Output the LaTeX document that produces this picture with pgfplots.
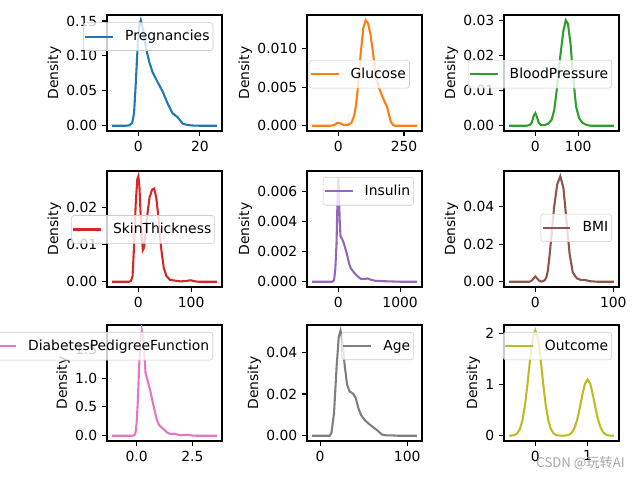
\documentclass[border=0pt]{standalone}
\usepackage{pgfplots}
\pgfplotsset{compat=1.18}
\usepackage{fontspec}
\setmainfont{DejaVu Sans}
\newfontfamily\cjk{Noto Sans CJK SC}
\definecolor{c1}{HTML}{1F77B4}
\definecolor{c2}{HTML}{FF7F0E}
\definecolor{c3}{HTML}{2CA02C}
\definecolor{c4}{HTML}{D62728}
\definecolor{c5}{HTML}{9467BD}
\definecolor{c6}{HTML}{8C564B}
\definecolor{c7}{HTML}{E377C2}
\definecolor{c8}{HTML}{7F7F7F}
\definecolor{c9}{HTML}{BCBD22}
\pgfplotsset{
  kde/.style={
    scale only axis, width=82.8pt, height=83.52pt, anchor=north west,
    axis line style={line width=0.8pt},
    tick align=outside, major tick length=3.5pt,
    tick style={line width=0.8pt, color=black},
    xtick pos=left, ytick pos=left,
    scaled x ticks=false, scaled y ticks=false,
    /pgf/number format/assume math mode=true,
    ticklabel style={font=\fontsize{10}{12}\selectfont},
    label style={font=\fontsize{10}{12}\selectfont},
    ylabel=Density,
    ylabel style={yshift=-3pt},
    every axis plot/.append style={line width=1.5pt, mark=none},
    legend cell align=left,
    legend image code/.code={\draw[##1, line width=1.5pt] (0pt,0pt) -- (20pt,0pt);},
    legend style={draw=black!20, rounded corners=2pt, fill=white, fill opacity=0.8,
      text opacity=1, font=\fontsize{10}{12}\selectfont,
      inner xsep=0.5pt, inner ysep=3.5pt, nodes={inner sep=2pt},
      /tikz/every odd column/.append style={column sep=6pt}},
  }
}
\begin{document}
\begin{tikzpicture}
\path[use as bounding box] (0,0) rectangle (460.8pt,-345.6pt);
% Row 1
\begin{axis}[kde, at={(77.04pt,-10.8pt)},
  xmin=-10.2, xmax=27.2, ymin=-0.00755, ymax=0.1586,
  xtick={0,20}, xticklabels={0,20},
  ytick={0,0.05,0.1,0.15}, yticklabels={0.00,0.05,0.10,0.15},
  legend style={at={(0.924,0.937)}, anchor=north east}]
\addplot[c1] coordinates {(-8.5,0) (-4,0) (-3,0.0005) (-2,0.004) (-1.4,0.018) (-0.9,0.056) (-0.3,0.108) (0.2,0.141) (0.8,0.151) (1.5,0.139) (2.4,0.113) (3.5,0.092) (4.6,0.077) (6.2,0.063) (7.9,0.049) (9.5,0.032) (11.1,0.018) (12.8,0.012) (14.4,0.003) (16,0.001) (18,0.0002) (20,0) (25.5,0)};
\addlegendentry{Pregnancies}
\end{axis}
\begin{axis}[kde, at={(221.04pt,-10.8pt)},
  xmin=-119.4, xmax=318.4, ymin=-0.000685, ymax=0.01439,
  xtick={0,250}, xticklabels={0,250},
  ytick={0,0.005,0.01}, yticklabels={0.000,0.005,0.010},
  legend style={at={(0.015,0.49)}, anchor=west}]
\addplot[c2] coordinates {(-99.5,0) (-30,0) (-15,0.0001) (-7,0.0003) (0,0.0004) (8,0.0003) (20,0.0001) (35,0.0001) (50,0.0004) (60,0.0013) (67,0.0026) (75,0.0052) (85,0.0094) (95,0.0127) (104,0.0137) (113,0.0133) (122,0.0119) (130,0.0100) (137,0.0080) (145,0.0061) (155,0.0049) (165,0.0040) (175,0.0032) (185,0.0025) (192,0.0015) (200,0.0005) (208,0.0001) (215,0) (298.5,0)};
\addlegendentry{Glucose}
\end{axis}
\begin{axis}[kde, at={(362.88pt,-10.8pt)},
  xmin=-73.2, xmax=195.2, ymin=-0.0015, ymax=0.0316,
  xtick={0,100}, xticklabels={0,100},
  ytick={0,0.01,0.02,0.03}, yticklabels={0.00,0.01,0.02,0.03},
  legend style={at={(0.939,0.49)}, anchor=east}]
\addplot[c3] coordinates {(-61,0) (-20,0) (-12,0.0003) (-8,0.0010) (-4,0.0028) (0,0.0036) (4,0.0024) (8,0.0008) (13,0.0002) (22,0.0002) (30,0.0006) (38,0.0017) (44,0.0045) (50,0.0102) (58,0.0197) (65,0.0268) (71,0.0301) (76,0.0291) (82,0.0235) (88,0.0140) (95,0.0055) (102,0.0022) (110,0.0008) (120,0.0002) (130,0) (183,0)};
\addlegendentry{BloodPressure}
\end{axis}
% Row 2
\begin{axis}[kde, at={(77.04pt,-123.12pt)},
  xmin=-59.4, xmax=158.4, ymin=-0.0014, ymax=0.0297,
  xtick={0,100}, xticklabels={0,100},
  ytick={0,0.01,0.02}, yticklabels={0.00,0.01,0.02},
  legend style={at={(0.939,0.496)}, anchor=east}]
\addplot[c4] coordinates {(-49.5,0) (-18,0) (-14,0.0002) (-11,0.0015) (-8,0.0100) (-5,0.0210) (-2,0.0275) (0,0.0283) (2,0.0255) (4,0.0190) (6,0.0127) (8.5,0.0085) (11,0.0092) (14,0.0135) (17,0.0180) (21,0.0225) (26,0.0247) (30,0.0250) (34,0.0225) (38,0.0172) (43,0.0092) (48,0.0038) (53,0.0016) (60,0.0005) (70,0.0003) (80,0.0001) (90,0.0002) (99,0.0004) (108,0.0001) (115,0) (148.5,0)};
\addlegendentry{SkinThickness}
\end{axis}
\begin{axis}[kde, at={(221.04pt,-123.12pt)},
  xmin=-507.6, xmax=1353.6, ymin=-0.00035, ymax=0.00734,
  xtick={0,1000}, xticklabels={0,1000},
  ytick={0,0.002,0.004,0.006}, yticklabels={0.000,0.002,0.004,0.006},
  legend style={at={(0.930,0.948)}, anchor=north east}]
\addplot[c5] coordinates {(-423,0) (-100,0) (-70,0.0001) (-50,0.0008) (-30,0.0025) (-15,0.0052) (-5,0.0067) (0,0.0069) (10,0.0060) (20,0.0042) (35,0.0030) (65,0.0028) (92,0.0025) (120,0.0021) (146,0.0017) (175,0.0012) (200,0.0009) (254,0.0006) (300,0.0004) (360,0.0002) (420,0.00017) (470,0.00022) (520,0.00014) (600,0.00006) (700,0.00004) (850,0.00002) (1000,0) (1269,0)};
\addlegendentry{Insulin}
\end{axis}
\begin{axis}[kde, at={(362.88pt,-123.12pt)},
  xmin=-40.26, xmax=107.36, ymin=-0.0028, ymax=0.0591,
  xtick={0,100}, xticklabels={0,100},
  ytick={0,0.02,0.04}, yticklabels={0.00,0.02,0.04},
  legend style={at={(0.939,0.509)}, anchor=east}]
\addplot[c6] coordinates {(-33.55,0) (-8,0) (-5,0.0004) (-2.5,0.0017) (0,0.0028) (2.5,0.0017) (5,0.0005) (8,0.0001) (12,0.0008) (14,0.0022) (16,0.0058) (18,0.0130) (20,0.0218) (24,0.0395) (28,0.0519) (32,0.0563) (36,0.0501) (40,0.0324) (44,0.0147) (48,0.0050) (53,0.0019) (58,0.0010) (65,0.0008) (70,0.0003) (80,0) (100.65,0)};
\addlegendentry{BMI}
\end{axis}
% Row 3
\begin{axis}[kde, at={(77.04pt,-234pt)},
  xmin=-1.327, xmax=3.825, ymin=-0.0915, ymax=1.92,
  xtick={0,2.5}, xticklabels={0.0,2.5},
  ytick={0,0.5,1,1.5}, yticklabels={0.0,0.5,1.0,1.5},
  legend style={at={(0.922,0.940)}, anchor=north east}]
\addplot[c7] coordinates {(-1.093,0) (-0.2,0) (-0.1,0.01) (-0.05,0.05) (0,0.22) (0.05,0.57) (0.12,1.26) (0.18,1.66) (0.23,1.83) (0.28,1.74) (0.33,1.49) (0.4,1.09) (0.5,0.94) (0.6,0.80) (0.7,0.62) (0.8,0.45) (0.9,0.28) (1.0,0.19) (1.1,0.15) (1.25,0.10) (1.4,0.046) (1.55,0.03) (1.7,0.035) (1.85,0.017) (2.0,0.008) (2.2,0.017) (2.35,0.012) (2.5,0.003) (2.7,0) (3.591,0)};
\addlegendentry{DiabetesPedigreeFunction}
\end{axis}
\begin{axis}[kde, at={(221.04pt,-234pt)},
  xmin=-15, xmax=117, ymin=-0.0025, ymax=0.053,
  xtick={0,100}, xticklabels={0,100},
  ytick={0,0.02,0.04}, yticklabels={0.00,0.02,0.04},
  legend style={at={(0.930,0.940)}, anchor=north east}]
\addplot[c8] coordinates {(-9,0) (11,0) (13,0.0013) (16,0.0108) (19,0.0331) (21.5,0.0475) (23.5,0.0504) (25.5,0.0459) (28,0.0347) (31,0.0244) (34,0.0212) (38,0.0201) (41,0.0180) (44,0.0132) (47,0.0100) (51,0.0076) (56,0.0057) (61,0.0041) (66,0.0025) (71,0.0006) (76,0.0002) (82,0.0002) (90,0) (111,0)};
\addlegendentry{Age}
\end{axis}
\begin{axis}[kde, at={(362.88pt,-234pt)},
  xmin=-0.6, xmax=1.6, ymin=-0.103, ymax=2.163,
  xtick={0,1}, xticklabels={0,1},
  ytick={0,1,2}, yticklabels={0,1,2},
  legend style={at={(0.939,0.940)}, anchor=north east}]
\addplot[c9] coordinates {(-0.5,0.0008) (-0.45,0.0035) (-0.4,0.0133) (-0.35,0.0435) (-0.3,0.121) (-0.25,0.288) (-0.2,0.585) (-0.15,1.013) (-0.1,1.504) (-0.05,1.903) (0,2.06) (0.05,1.903) (0.1,1.504) (0.15,1.013) (0.2,0.585) (0.25,0.288) (0.3,0.121) (0.35,0.044) (0.4,0.014) (0.45,0.005) (0.5,0.0016) (0.55,0.0019) (0.6,0.0071) (0.65,0.0232) (0.7,0.0646) (0.75,0.154) (0.8,0.312) (0.85,0.541) (0.9,0.803) (0.95,1.016) (1.0,1.10) (1.05,1.016) (1.1,0.803) (1.15,0.541) (1.2,0.312) (1.25,0.154) (1.3,0.0646) (1.35,0.0232) (1.4,0.0071) (1.45,0.0019) (1.5,0.0004)};
\addlegendentry{Outcome}
\end{axis}
\node[anchor=east, text=gray!70, font=\cjk\fontsize{9.5}{11}\selectfont, inner sep=0pt] at (450pt,-333.4pt) {CSDN @玩转AI};
\end{tikzpicture}
\end{document}
